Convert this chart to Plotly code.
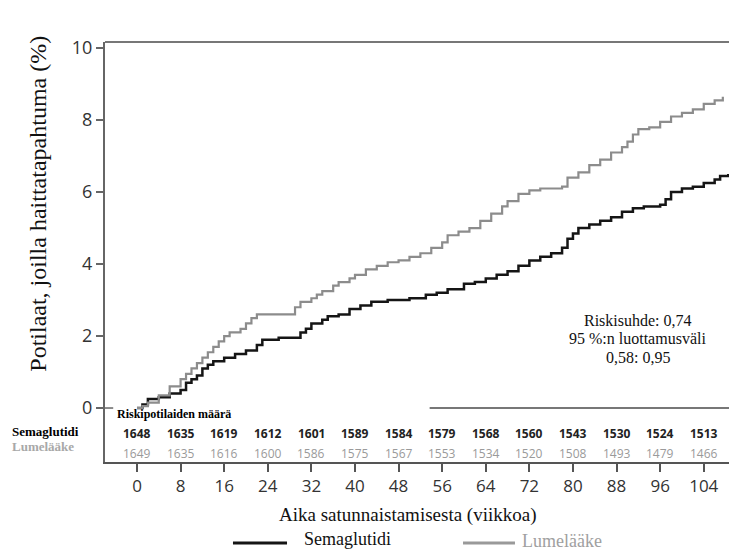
import plotly.graph_objects as go

# --- Data ---
sema_weeks = [0, 1, 2, 4, 6, 8, 9, 10, 11, 12, 13, 14, 16, 18, 20, 22, 23, 26, 29, 30, 31, 32, 34, 35,
              37, 39, 41, 43, 46, 50, 53, 55, 57, 60, 62, 64, 66, 68, 70, 72, 74, 76, 78, 79, 80, 81,
              83, 85, 87, 89, 91, 93, 96, 97, 98, 100, 102, 104, 106, 107, 108.5]
sema_pct = [0, 0.1, 0.25, 0.3, 0.4, 0.5, 0.7, 0.8, 0.9, 1.1, 1.2, 1.3, 1.4, 1.5, 1.6, 1.75, 1.9, 1.95, 1.95,
            2.1, 2.2, 2.35, 2.45, 2.55, 2.6, 2.75, 2.85, 2.95, 3.0, 3.05, 3.15, 3.2, 3.3, 3.45, 3.5, 3.6,
            3.7, 3.8, 3.95, 4.1, 4.2, 4.3, 4.45, 4.7, 4.85, 5.0, 5.1, 5.2, 5.3, 5.45, 5.55, 5.6, 5.65,
            5.8, 6.0, 6.1, 6.15, 6.25, 6.35, 6.45, 6.5]

plac_weeks = [0, 1, 2, 4, 6, 8, 9, 10, 11, 12, 13, 14, 15, 16, 17, 19, 20, 21, 22, 25, 28, 29, 30, 32,
              33, 34, 36, 37, 39, 40, 42, 44, 46, 48, 50, 52, 54, 56, 57, 59, 61, 63, 65, 67, 68, 70,
              72, 74, 76, 78, 79, 81, 83, 85, 87, 89, 90, 91, 92, 94, 96, 98, 100, 102, 104, 106, 107.5]
plac_pct = [0, 0.05, 0.15, 0.35, 0.6, 0.8, 0.95, 1.1, 1.25, 1.4, 1.55, 1.7, 1.85, 2.0, 2.1, 2.2, 2.35,
            2.5, 2.6, 2.6, 2.6, 2.8, 2.95, 3.05, 3.15, 3.25, 3.4, 3.5, 3.6, 3.7, 3.85, 3.95, 4.05, 4.1,
            4.2, 4.3, 4.45, 4.6, 4.8, 4.9, 5.0, 5.2, 5.4, 5.6, 5.75, 5.95, 6.05, 6.1, 6.1, 6.15, 6.4,
            6.55, 6.75, 6.9, 7.1, 7.25, 7.4, 7.6, 7.75, 7.8, 7.95, 8.1, 8.2, 8.3, 8.45, 8.55, 8.65]

risk_weeks = [0, 8, 16, 24, 32, 40, 48, 56, 64, 72, 80, 88, 96, 104]
risk_sema = [1648, 1635, 1619, 1612, 1601, 1589, 1584, 1579, 1568, 1560, 1543, 1530, 1524, 1513]
risk_plac = [1649, 1635, 1616, 1600, 1586, 1575, 1567, 1553, 1534, 1520, 1508, 1493, 1479, 1466]

y_ticks = [0, 2, 4, 6, 8, 10]

names = ["Semaglutidi", "Lumelääke"]
hr_lines = ["Riskisuhde: 0,74", "95 %:n luottamusväli", "0,58: 0,95"]

BLACK = "#151515"
GRAY = "#8c8c8c"
SERIF = "Liberation Serif"
SANS = "Open Sans"

fig = go.Figure()
fig.add_trace(go.Scatter(x=sema_weeks, y=sema_pct, mode="lines", line=dict(color=BLACK, width=2.5, shape="hv"),
                         name=names[0], showlegend=False))
fig.add_trace(go.Scatter(x=plac_weeks, y=plac_pct, mode="lines", line=dict(color=GRAY, width=2.2, shape="hv"),
                         name=names[1], showlegend=False))


def ann(**kw):
    base = dict(showarrow=False, xanchor="center", yanchor="middle")
    base.update(kw)
    return base


annotations = []
# risk table numbers
for w, s, p in zip(risk_weeks, risk_sema, risk_plac):
    annotations.append(ann(x=w, y=-0.72, xref="x", yref="y", text=f"<b>{s}</b>",
                           font=dict(family=SANS, size=12, color="#222222")))
    annotations.append(ann(x=w, y=-1.25, xref="x", yref="y", text=str(p),
                           font=dict(family=SANS, size=12, color="#9a9a9a")))
annotations.append(ann(x=-4.1, y=-0.17, xref="x", yref="y", xanchor="left", text="<b>Riskipotilaiden määrä</b>",
                       font=dict(family=SERIF, size=12, color="#000000")))
annotations.append(ann(x=-0.150, y=-0.64, xref="paper", yref="y", xanchor="left", text="<b>Semaglutidi</b>",
                       font=dict(family=SERIF, size=13, color="#000000")))
annotations.append(ann(x=-0.150, y=-1.06, xref="paper", yref="y", xanchor="left", text="<b>Lumelääke</b>",
                       font=dict(family=SERIF, size=13, color="#a8a8a8")))
# hazard ratio text
for txt, yp in zip(hr_lines, [0.338, 0.293, 0.250]):
    annotations.append(ann(x=0.843, y=yp, xref="paper", yref="paper", text=txt,
                           font=dict(family=SERIF, size=16, color="#111111")))
# axis titles
annotations.append(ann(x=0.479, y=-0.126, xref="paper", yref="paper", text="Aika satunnaistamisesta (viikkoa)",
                       font=dict(family=SERIF, size=19, color="#111111")))
annotations.append(ann(x=-0.106, y=0.615, xref="paper", yref="paper", text="Potilaat, joilla haittatapahtuma (%)",
                       textangle=-90, font=dict(family=SERIF, size=24, color="#111111")))
# legend texts
annotations.append(ann(x=0.3117, y=-0.183, xref="paper", yref="paper", xanchor="left", text=names[0],
                       font=dict(family=SERIF, size=18, color="#111111")))
annotations.append(ann(x=0.6566, y=-0.188, xref="paper", yref="paper", xanchor="left", text=names[1],
                       font=dict(family=SERIF, size=18, color="#a0a0a0")))

shapes = [
    dict(type="line", xref="paper", yref="paper", x0=0, x1=1, y0=1, y1=1, line=dict(color="#777777", width=2)),
    dict(type="line", xref="x", yref="y", x0=53.7, x1=110.1, y0=0, y1=0, line=dict(color="#777777", width=2)),
    dict(type="line", xref="paper", yref="y", x0=0, x1=0.013, y0=0, y1=0, line=dict(color="#666666", width=1.5)),
    dict(type="line", xref="paper", yref="paper", x0=0.2025, x1=0.288, y0=-0.193, y1=-0.193,
         line=dict(color=BLACK, width=3)),
    dict(type="line", xref="paper", yref="paper", x0=0.5665, x1=0.6487, y0=-0.193, y1=-0.193,
         line=dict(color="#999999", width=3)),
]

# page body has a default 8px margin, so figure is sized/placed to compensate
fig.update_layout(
    width=729, height=549,
    margin=dict(l=97, r=0, t=34, b=95),
    plot_bgcolor="white", paper_bgcolor="white",
    annotations=annotations, shapes=shapes,
    showlegend=False,
    xaxis=dict(range=[-5.87, 110.1], tickvals=risk_weeks, ticktext=[str(w) for w in risk_weeks],
               showgrid=False, zeroline=False, showline=True, linecolor="#555555", linewidth=2,
               ticks="outside", ticklen=8, tickcolor="#555555", tickwidth=1.5,
               tickfont=dict(family=SANS, size=17, color="#333333")),
    yaxis=dict(range=[-1.5, 10.17], tickvals=y_ticks, ticktext=[str(v) for v in y_ticks],
               showgrid=False, zeroline=False, showline=True, linecolor="#666666", linewidth=2,
               ticks="outside", ticklen=7, tickcolor="#666666", tickwidth=1.5,
               tickfont=dict(family=SANS, size=18, color="#333333")),
)

fig.write_html("out.html")
